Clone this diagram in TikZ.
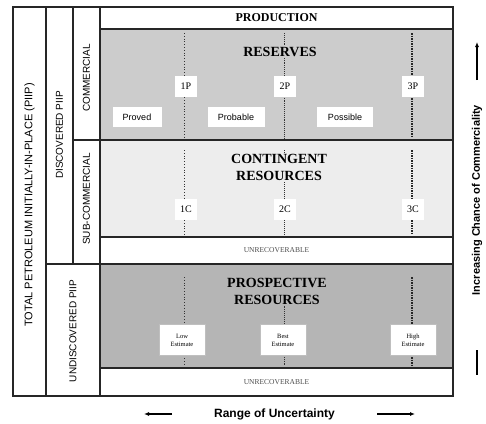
\documentclass[tikz,border=0pt]{standalone}
\usepackage{fontspec}
\setmainfont{Liberation Serif}
\setsansfont{Liberation Sans}
\usetikzlibrary{arrows.meta}
\definecolor{resgray}{gray}{0.80}
\definecolor{congray}{gray}{0.93}
\definecolor{progray}{gray}{0.71}

\def\L{100}
\def\R{453}

\begin{document}
\begin{tikzpicture}[x=1pt,y=-1pt]
    \tikzset{
      frame/.style={draw=black!85,line width=1.6pt},
      title/.style={font=\rmfamily\bfseries\fontsize{14}{17}\selectfont,align=center,inner sep=1pt},
      tag/.style={fill=white,font=\rmfamily\fontsize{10}{12}\selectfont,minimum width=22pt,minimum height=21pt,inner sep=0pt},
      cat/.style={fill=white,font=\sffamily\fontsize{9}{11}\selectfont,minimum height=20pt,inner sep=0pt},
      est/.style={fill=white,draw=black!25,font=\rmfamily\fontsize{6.5}{8}\selectfont,align=center,minimum width=46pt,minimum height=31pt,inner sep=0pt},
      side/.style={rotate=90,font=\sffamily\fontsize{10}{12}\selectfont},
      unrec/.style={font=\rmfamily\fontsize{7.5}{9}\selectfont,text=black!70},
      lowline/.style={black!80,line width=0.8pt,dotted},
      midline/.style={black!80,line width=0.9pt,densely dotted},
      highline/.style={black!85,line width=2pt,dash pattern=on 1.5pt off 1pt},
      axis/.style={font=\sffamily\bfseries\fontsize{11}{13}\selectfont},
      axisarrow/.style={line width=1.2pt,-{Latex[length=5pt,width=4pt]}}
    }
    \useasboundingbox (0,0) rectangle (486,423);

    % class areas
    \fill[white] (\L,7) rectangle (\R,29);
    \fill[resgray] (\L,29) rectangle (\R,140);
    \fill[congray] (\L,140) rectangle (\R,237);
    \fill[progray] (\L,264) rectangle (\R,368);

    % uncertainty lines
    \foreach \x/\s in {184/lowline,284/midline,412/highline} {
      \draw[\s] (\x,33) -- (\x,138);
      \draw[\s] (\x,150) -- (\x,235);
      \draw[\s] (\x,277) -- (\x,365);
    }

    \node[title] (prod) at (276.5,18) {\fontsize{12}{14}\selectfont PRODUCTION};
    \node[title,fill=resgray] (res) at (280,52) {RESERVES};
    \node[title,fill=congray] (cont) at (279,167) {CONTINGENT\\RESOURCES};
    \node[title,fill=progray] (pros) at (277,291) {PROSPECTIVE\\RESOURCES};

    \node[tag] (p1) at (186,86) {1P};
    \node[tag] (p2) at (285,86) {2P};
    \node[tag] (p3) at (413,86) {3P};
    \node[cat,minimum width=49pt] (proved) at (137,117) {Proved};
    \node[cat,minimum width=57pt] (probable) at (236,117) {Probable};
    \node[cat,minimum width=56pt] (possible) at (345,117) {Possible};

    \node[tag] (c1) at (186,209) {1C};
    \node[tag] (c2) at (285,209) {2C};
    \node[tag] (c3) at (413,209) {3C};

    \node[unrec] (unrc) at (276.5,250.5) {UNRECOVERABLE};

    \node[est] (lowest) at (182,340) {Low\\Estimate};
    \node[est] (bestest) at (283,340) {Best\\Estimate};
    \node[est] (highest) at (413,340) {High\\Estimate};

    \node[unrec] (unrp) at (276.5,382) {UNRECOVERABLE};

    % frame
    \draw[frame] (13,7) rectangle (\R,396);
    \draw[frame] (46,7) -- (46,396);
    \draw[frame] (73,7) -- (73,264);
    \draw[frame] (\L,7) -- (\L,396);
    \foreach \x/\y in {\L/29,73/140,\L/237,46/264,\L/368}
      \draw[frame] (\x,\y) -- (\R,\y);

    \node[side,font=\sffamily\fontsize{11}{13}\selectfont] (piip) at (29.5,205) {TOTAL PETROLEUM INITIALLY-IN-PLACE (PIIP)};
    \node[side] (disc) at (59.5,135) {DISCOVERED PIIP};
    \node[side] (comm) at (86.5,78) {COMMERCIAL};
    \node[side] (subc) at (86.5,199) {SUB-COMMERCIAL};
    \node[side] (undisc) at (73,331) {UNDISCOVERED PIIP};

    % axes
    \node[axis,rotate=90] (chance) at (477,200) {Increasing Chance of Commerciality};
    \coordinate (up0) at (477,80);
    \coordinate (up1) at (477,42);
    \coordinate (bar0) at (477,350);
    \coordinate (bar1) at (477,375);
    \draw[axisarrow] (up0) -- (up1);
    \draw[line width=1.5pt] (bar0) -- (bar1);

    \node[axis,font=\sffamily\bfseries\fontsize{12}{14}\selectfont] (range) at (274.5,414) {Range of Uncertainty};
    \coordinate (lt0) at (172,414);
    \coordinate (lt1) at (144,414);
    \coordinate (rt0) at (377,414);
    \coordinate (rt1) at (415,414);
    \draw[axisarrow] (lt0) -- (lt1);
    \draw[axisarrow] (rt0) -- (rt1);
  \end{tikzpicture}
\end{document}
